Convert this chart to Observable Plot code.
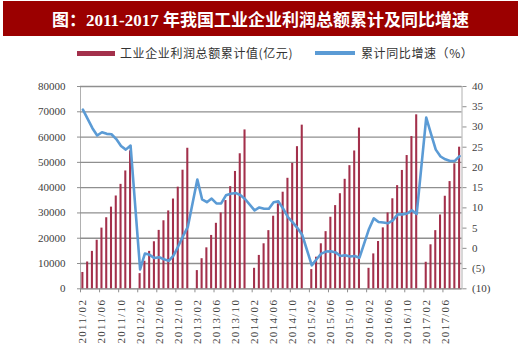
<!DOCTYPE html>
<html><head><meta charset="utf-8">
<script src="https://cdn.jsdelivr.net/npm/d3@7"></script>
<script src="https://cdn.jsdelivr.net/npm/@observablehq/plot@0.6"></script>
<style>
body{margin:0;width:520px;height:356px;background:#fff;position:relative;overflow:hidden;font-family:"Liberation Serif","Noto Sans CJK SC",serif;}
#title{position:absolute;left:3px;top:1px;width:515px;height:35px;background:#9b0000;color:#fff;font-weight:bold;font-size:17px;font-family:"Liberation Serif","Noto Sans CJK SC",serif;display:flex;align-items:center;justify-content:center;white-space:nowrap;}
.sw{position:absolute;height:5px;top:50.5px;}
.lt{position:absolute;top:45px;height:16px;line-height:16px;font-size:12px;color:#333;letter-spacing:0.6px;white-space:nowrap;font-family:"Noto Sans CJK SC",sans-serif;}
#chart{position:absolute;left:0;top:64px;}
</style></head>
<body>
<div id="title">图：2011-2017 年我国工业企业利润总额累计及同比增速</div>
<div class="sw" style="left:77px;width:38px;background:#a3304b"></div>
<div class="lt" style="left:120px">工业企业利润总额累计值(亿元)</div>
<div class="sw" style="left:315px;width:40px;height:4px;top:51px;background:#5b9bd5"></div>
<div class="lt" style="left:361px">累计同比增速（%）</div>
<div id="chart"></div>
<script>
// Cumulative profit (亿元), Jan-Feb through Jan-Dec for each year
const years = [2011, 2012, 2013, 2014, 2015, 2016, 2017];
const profit2011 = [6457, 10600, 14800, 19200, 24000, 28100, 32300, 36700, 41300, 46600, 54544];
const profit2012 = [6000, 10900, 14800, 18600, 23100, 26900, 30800, 35500, 40200, 46900, 55578];
const profit2013 = [7200, 11900, 16200, 21100, 25900, 30000, 34900, 40400, 46400, 53400, 62831];
const profit2014 = [8100, 13200, 17800, 23000, 28700, 33600, 38200, 43700, 49600, 56200, 64715];
const profit2015 = [7600, 12500, 17800, 22600, 28300, 32900, 37600, 43300, 48700, 54500, 63554];
const profit2016 = [8100, 13800, 18700, 24100, 30000, 35600, 40800, 46800, 52700, 60200, 68803];
const profit2017 = [10500, 17400, 23000, 29200, 36600, 42400, 49400, 56000];
// Cumulative YoY growth (%)
const growth2011 = [34.3, 32.0, 29.7, 27.9, 28.7, 28.3, 28.2, 27.0, 25.3, 24.4, 25.4];
const growth2012 = [-5.2, -1.3, -1.6, -2.4, -2.2, -2.7, -3.1, -1.8, 0.5, 3.0, 5.3];
const growth2013 = [17.0, 12.1, 11.4, 12.3, 11.1, 11.1, 13.1, 13.5, 13.7, 13.2, 12.2];
const growth2014 = [9.4, 10.1, 9.8, 9.8, 11.4, 11.6, 9.8, 7.7, 6.4, 5.0, 3.3];
const growth2015 = [-4.2, -2.7, -1.3, -0.8, -0.7, -1.0, -1.9, -1.7, -2.0, -1.9, -2.3];
const growth2016 = [4.8, 7.4, 6.5, 6.4, 6.2, 6.9, 8.4, 8.4, 8.6, 9.4, 8.5];
const growth2017 = [32.3, 28.3, 24.4, 22.7, 22.0, 21.6, 21.6, 22.8];

const profits = [profit2011, profit2012, profit2013, profit2014, profit2015, profit2016, profit2017];
const growths = [growth2011, growth2012, growth2013, growth2014, growth2015, growth2016, growth2017];

const leftTicks = [0, 10000, 20000, 30000, 40000, 50000, 60000, 70000, 80000];
const rightTicks = [-10, -5, 0, 5, 10, 15, 20, 25, 30, 35, 40];
const xTickLabels = ["2011/02","2011/06","2011/10","2012/02","2012/06","2012/10","2013/02","2013/06","2013/10",
  "2014/02","2014/06","2014/10","2015/02","2015/06","2015/10","2016/02","2016/06","2016/10","2017/02","2017/06"];

const pad = m => String(m).padStart(2, "0");
// category axis: every month from 2011/02 to 2017/09 (January slots stay empty)
const months = [];
for (const y of years) for (let m = 1; m <= 12; m++) {
  if ((y === 2011 && m < 2) || (y === 2017 && m > 9)) continue;
  months.push(`${y}/${pad(m)}`);
}
const rows = [];
years.forEach((y, k) => profits[k].forEach((v, i) => rows.push({month: `${y}/${pad(i + 2)}`, value: v, g: growths[k][i]})));

// right axis (-10..40) mapped onto left axis (0..80000)
const toLeft = r => (r + 10) * 1600;
const fromLeft = v => Math.round(v / 1600 - 10);
const fmtR = r => r < 0 ? `(${-r})` : String(r);

const W = 520, H = 292, ML = 80, MR = 58.5, MT = 22, MB = 67.7;
const step = (W - ML - MR) / months.length;
const gridC = "#8f8f8f";

const chart = Plot.plot({
  width: W, height: H, marginLeft: ML, marginRight: MR, marginTop: MT, marginBottom: MB,
  x: {type: "band", domain: months, padding: 0, label: null},
  y: {domain: [0, 80000], label: null},
  style: {fontFamily: "'Liberation Serif', serif", fontSize: "11px", color: "#404040", background: "transparent"},
  marks: [
    Plot.frame({stroke: "#b0b0b0"}),
    Plot.gridY(leftTicks, {stroke: gridC, strokeOpacity: 1, strokeWidth: 1.3}),
    Plot.barY(rows, {x: "month", y: "value", fill: "#a3304b", insetLeft: 1.35, insetRight: 1.35}),
    Plot.line(rows, {x: "month", y: d => toLeft(d.g), stroke: "#5b9bd5", strokeWidth: 2.6}),
    Plot.axisY(leftTicks, {anchor: "left", tickSize: 3, tickPadding: 12, stroke: gridC, tickFormat: d => String(d), fill: "#404040"}),
    Plot.axisY(rightTicks.map(toLeft), {anchor: "right", tickSize: 4, tickPadding: 6, stroke: gridC, tickFormat: d => fmtR(fromLeft(d)), fill: "#404040"}),
    Plot.axisX(xTickLabels, {tickSize: 4, tickFormat: () => "", dx: -step / 2, stroke: gridC}),
    Plot.axisX(xTickLabels, {tickSize: 0, tickPadding: 10, tickRotate: -90, fill: "#404040"})
  ]
});
document.getElementById("chart").appendChild(chart);
d3.select(chart).selectAll("g[aria-label='x-axis tick label'] text").style("letter-spacing", "1.3px");
</script>
</body></html>
